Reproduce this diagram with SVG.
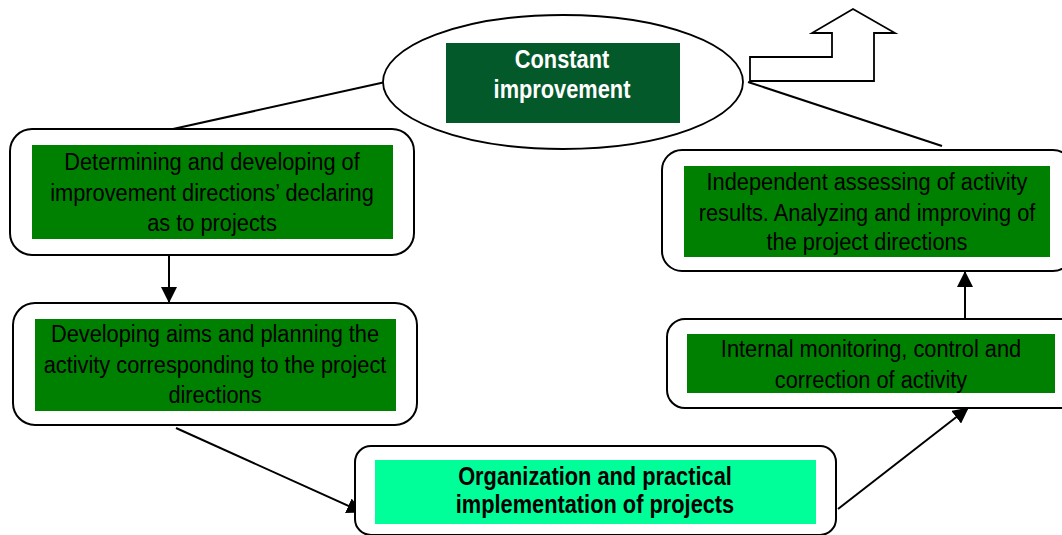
<svg xmlns="http://www.w3.org/2000/svg" width="1062" height="535" viewBox="0 0 1062 535">
<defs>
<style>
.box{fill:#fff;stroke:#000;stroke-width:2}
.g{fill:#008000}
.t{font-family:"Liberation Sans",Arial,sans-serif;font-size:21.8px;fill:#000;text-anchor:middle}
.b{font-family:"Liberation Sans",Arial,sans-serif;font-size:21.8px;font-weight:bold;text-anchor:middle}
.ln{stroke:#000;stroke-width:2;fill:none}
</style>
<marker id="ah" viewBox="0 0 16 16" refX="15" refY="8" markerWidth="16" markerHeight="16" markerUnits="userSpaceOnUse" orient="auto">
<path d="M0,0 L16,8 L0,16 Z" fill="#000"/>
</marker>
</defs>
<rect width="1062" height="535" fill="#fff"/>
<g id="connectors">
<line class="ln" x1="173" y1="129" x2="390" y2="81"/>
<line class="ln" x1="748" y1="82" x2="942" y2="146"/>
<line class="ln" x1="169" y1="255" x2="169" y2="302" marker-end="url(#ah)"/>
<line class="ln" x1="176" y1="428" x2="362" y2="512" marker-end="url(#ah)"/>
<line class="ln" x1="838" y1="509" x2="968" y2="408" marker-end="url(#ah)"/>
<line class="ln" x1="965" y1="319" x2="965" y2="272" marker-end="url(#ah)"/>
</g>
<g id="constant-improvement">
<ellipse cx="563" cy="82" rx="180" ry="67" fill="#fff" stroke="#000" stroke-width="1.8"/>
<rect x="446" y="43" width="234" height="80" fill="#04592B"/>
<text class="b" fill="#fff" transform="translate(562,68) scale(1,1.15)">Constant</text>
<text class="b" fill="#fff" transform="translate(562,98) scale(1,1.15)">improvement</text>
</g>
<g id="up-arrow">
<path d="M750,57 L832,57 L832,33 L812,33 L853,9 L895,33 L874,33 L874,81 L750,81 Z" fill="#fff" stroke="#000" stroke-width="1.8" stroke-linejoin="miter"/>
</g>
<g id="determining">
<rect class="box" x="10" y="129" width="404" height="126" rx="22"/>
<rect class="g" x="32" y="145" width="361" height="94"/>
<text class="t" transform="translate(212,170) scale(1,1.08)">Determining and developing of</text>
<text class="t" transform="translate(212,201) scale(1,1.08)">improvement directions’ declaring</text>
<text class="t" transform="translate(212,231) scale(1,1.08)">as to projects</text>
</g>
<g id="developing">
<rect class="box" x="13" y="303" width="404" height="122" rx="22"/>
<rect class="g" x="35" y="319" width="361" height="92"/>
<text class="t" transform="translate(215,342) scale(1,1.08)">Developing aims and planning the</text>
<text class="t" transform="translate(215,373) scale(1,1.08)">activity corresponding to the project</text>
<text class="t" transform="translate(215,403) scale(1,1.08)">directions</text>
</g>
<g id="organization">
<rect class="box" x="355" y="446" width="481" height="89" rx="16"/>
<rect x="375" y="460" width="441" height="64" fill="#00FF99"/>
<text class="b" transform="translate(595,485) scale(1,1.15)">Organization and practical</text>
<text class="b" transform="translate(595,513) scale(1,1.15)">implementation of projects</text>
</g>
<g id="monitoring">
<rect class="box" x="667" y="319" width="420" height="89" rx="18"/>
<rect class="g" x="687" y="334" width="368" height="59"/>
<text class="t" transform="translate(871,357) scale(1,1.08)">Internal monitoring, control and</text>
<text class="t" transform="translate(871,388) scale(1,1.08)">correction of activity</text>
</g>
<g id="assessing">
<rect class="box" x="662" y="150" width="411" height="121" rx="20"/>
<rect class="g" x="684" y="166" width="366" height="91"/>
<text class="t" transform="translate(867,190) scale(1,1.08)">Independent assessing of activity</text>
<text class="t" transform="translate(867,221) scale(1,1.08)">results. Analyzing and improving of</text>
<text class="t" transform="translate(867,250) scale(1,1.08)">the project directions</text>
</g>
</svg>
